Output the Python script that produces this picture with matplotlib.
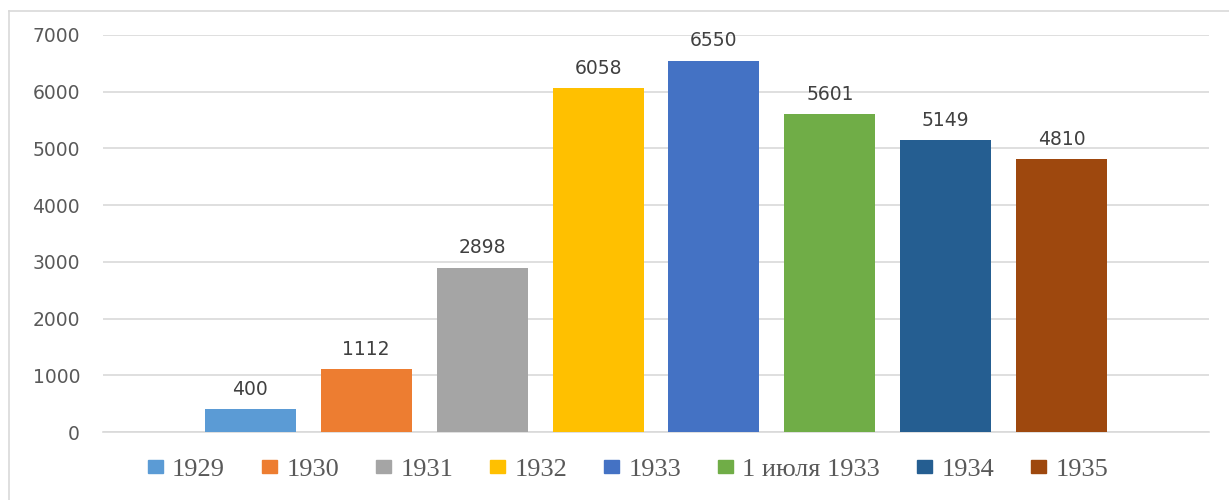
import matplotlib.pyplot as plt
from matplotlib.patches import Patch
from matplotlib.lines import Line2D

labels = ['1929', '1930', '1931', '1932', '1933', '1 июля 1933', '1934', '1935']
values = [400, 1112, 2898, 6058, 6550, 5601, 5149, 4810]
colors = ['#5B9BD5', '#ED7D31', '#A5A5A5', '#FFC000', '#4472C4', '#70AD47', '#255E91', '#9E480E']
yticks = [0, 1000, 2000, 3000, 4000, 5000, 6000, 7000]

W, H = 1229, 500
fig = plt.figure(figsize=(W / 100, H / 100), dpi=100)
ax = fig.add_axes([103 / W, 1 - 432 / H, (1209 - 103) / W, (432 - 35) / H])

x = list(range(len(values)))
ax.bar(x, values, width=0.785, color=colors, zorder=3)
for xi, v in zip(x, values):
    ax.text(xi, v + 180, str(v), ha='center', va='bottom', fontsize=13.5,
            color='#404040', family='DejaVu Sans')

ax.set_xlim(-1.27, 8.27)
ax.set_ylim(0, 7000)
ax.set_yticks(yticks)
ax.set_yticklabels([str(t) for t in yticks], fontsize=13.5, color='#595959')
ax.tick_params(axis='y', length=0, pad=16.5)
ax.set_xticks([])
ax.grid(axis='y', color='#D9D9D9', linewidth=1.2, zorder=0)
for s in ['top', 'right', 'left']:
    ax.spines[s].set_visible(False)
ax.spines['bottom'].set_color('#D9D9D9')
ax.spines['bottom'].set_linewidth(1.2)

handles = [Patch(facecolor=c, edgecolor=c) for c in colors]
fig.legend(handles, labels, loc='center', bbox_to_anchor=(628 / W, 1 - 470 / H),
           ncol=8, frameon=False, handlelength=0.57, handleheight=0.42,
           handletextpad=0.35, columnspacing=1.4,
           prop={'family': 'Liberation Serif', 'size': 19},
           labelcolor='#595959')

# outer chart frame
fig.add_artist(Line2D([9 / W, 9 / W], [0, 1 - 11 / H], color='#D9D9D9', lw=1.2))
fig.add_artist(Line2D([9 / W, 1], [1 - 11 / H, 1 - 11 / H], color='#D9D9D9', lw=1.2))

fig.savefig('out.png', dpi=100)
